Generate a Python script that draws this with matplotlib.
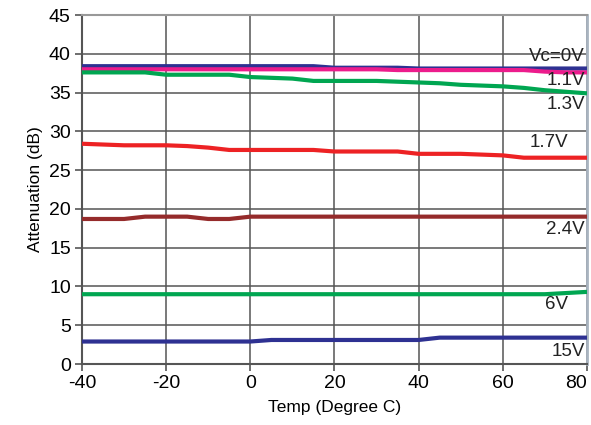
import matplotlib
matplotlib.use("Agg")
import matplotlib.pyplot as plt

temps = [-40, -35, -30, -25, -20, -15, -10, -5, 0, 5, 10, 15, 20, 25, 30, 35, 40, 45, 50, 55, 60, 65, 70, 75, 80]

vc0 =  [38.4, 38.4, 38.4, 38.4, 38.4, 38.4, 38.4, 38.4, 38.4, 38.4, 38.4, 38.4, 38.2, 38.2, 38.2, 38.2, 38.1, 38.1, 38.1, 38.1, 38.1, 38.1, 38.1, 38.1, 38.1]
v11 =  [38.0, 38.0, 38.0, 38.0, 38.0, 38.0, 38.0, 38.0, 38.0, 38.0, 38.0, 38.0, 38.0, 38.0, 38.0, 37.9, 37.9, 37.9, 37.9, 37.9, 37.9, 37.9, 37.7, 37.6, 37.6]
v13 =  [37.6, 37.6, 37.6, 37.6, 37.3, 37.3, 37.3, 37.3, 37.0, 36.9, 36.8, 36.5, 36.5, 36.5, 36.5, 36.4, 36.3, 36.2, 36.0, 35.9, 35.8, 35.6, 35.3, 35.1, 34.9]
v17 =  [28.4, 28.3, 28.2, 28.2, 28.2, 28.1, 27.9, 27.6, 27.6, 27.6, 27.6, 27.6, 27.4, 27.4, 27.4, 27.4, 27.1, 27.1, 27.1, 27.0, 26.9, 26.6, 26.6, 26.6, 26.6]
v24 =  [18.7, 18.7, 18.7, 19.0, 19.0, 19.0, 18.7, 18.7, 19.0, 19.0, 19.0, 19.0, 19.0, 19.0, 19.0, 19.0, 19.0, 19.0, 19.0, 19.0, 19.0, 19.0, 19.0, 19.0, 19.0]
v6 =   [9.0, 9.0, 9.0, 9.0, 9.0, 9.0, 9.0, 9.0, 9.0, 9.0, 9.0, 9.0, 9.0, 9.0, 9.0, 9.0, 9.0, 9.0, 9.0, 9.0, 9.0, 9.0, 9.0, 9.15, 9.3]
v15 =  [2.9, 2.9, 2.9, 2.9, 2.9, 2.9, 2.9, 2.9, 2.9, 3.1, 3.1, 3.1, 3.1, 3.1, 3.1, 3.1, 3.1, 3.4, 3.4, 3.4, 3.4, 3.4, 3.4, 3.4, 3.4]

series_labels = ["Vc=0V", "1.1V", "1.3V", "1.7V", "2.4V", "6V", "15V"]
label_y = [39.6, 36.6, 33.5, 28.6, 17.3, 7.7, 1.6]
label_x = [79.5, 79.5, 79.5, 75.5, 79.5, 75.5, 79.5]

x_ticks = [-40, -20, 0, 20, 40, 60, 80]
y_ticks = [0, 5, 10, 15, 20, 25, 30, 35, 40, 45]

plt.rcParams['font.family'] = ['Liberation Sans Narrow', 'Liberation Sans', 'DejaVu Sans']

fig = plt.figure(figsize=(5.91, 4.25), dpi=100)
ax = fig.add_axes([0.1387, 0.1435, 0.8545, 0.8212])

series = [vc0, v11, v13, v17, v24, v6, v15]
colors = ["#2E3192", "#EC1C8C", "#00A651", "#ED2224", "#952B2B", "#00A651", "#2E3192"]
for s, c in zip(series, colors):
    ax.plot(temps, s, color=c, lw=3.0, solid_capstyle='butt', zorder=3)

ax.set_xlim(-40, 80)
ax.set_ylim(0, 45)
ax.set_xticks(x_ticks)
ax.set_yticks(y_ticks)
ax.set_xticklabels([str(t) for t in x_ticks], fontsize=14)
ax.set_yticklabels([str(t) for t in y_ticks], fontsize=14)
ax.grid(True, color="#555555", lw=1.1, zorder=1)
ax.tick_params(direction='out', length=5, width=1.2, color="#555555", pad=3)
lbls = ax.get_xticklabels()
lbls[-1].set_horizontalalignment('right')
lbls[-1].set_x(0)

for s in ['left', 'bottom']:
    ax.spines[s].set_color("#555555")
    ax.spines[s].set_linewidth(1.5)
ax.spines['top'].set_color("#999999")
ax.spines['top'].set_linewidth(1.5)
ax.spines['right'].set_color("#A9B4C0")
ax.spines['right'].set_linewidth(2)

for lab, lx, ly in zip(series_labels, label_x, label_y):
    ax.text(lx, ly, lab, ha='right', va='center', fontsize=13.5, color="#222222", zorder=4)

ax.set_xlabel("Temp (Degree C)", fontsize=12.5, labelpad=6)
ax.set_ylabel("Attenuation (dB)", fontsize=12.5, labelpad=4)

fig.savefig("out.png", dpi=100)
